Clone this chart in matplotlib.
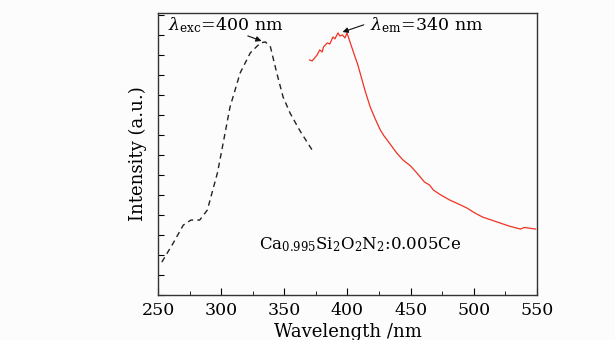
import matplotlib.pyplot as plt
from matplotlib.ticker import MultipleLocator

plt.rcParams['font.family'] = 'DejaVu Serif'
plt.rcParams['mathtext.fontset'] = 'dejavuserif'

# excitation spectrum (dashed)
exc_wl = [253, 262, 270, 276, 283, 289, 297, 299, 307, 315, 323, 331, 335,
          339, 344, 349, 354.5, 362, 373]
exc_int = [1.65, 2.6, 3.5, 3.75, 3.75, 4.25, 6.1, 6.75, 9.4, 11.1, 12.1, 12.6,
           12.65, 12.4, 11.1, 9.9, 9.1, 8.25, 7.15]

# emission spectrum (red)
em_wl = [370, 372, 374, 376, 378, 380, 381, 384, 386, 388.5, 390, 392.5, 394,
         396, 398, 399.6, 402, 406, 408, 410, 414, 418, 420, 422, 426, 429,
         432, 439, 444, 447, 450, 455, 461, 465, 468, 474, 481, 488, 494.6,
         501, 507, 514, 521, 528, 534, 537, 540, 549]
em_int = [11.75, 11.7, 11.85, 12.0, 12.25, 12.15, 12.4, 12.6, 12.55, 12.9,
          12.8, 13.1, 12.95, 13.0, 12.85, 13.1, 12.65, 11.9, 11.55, 11.1, 10.2,
          9.4, 9.1, 8.8, 8.25, 7.95, 7.7, 7.1, 6.75, 6.6, 6.45, 6.1, 5.65, 5.5,
          5.25, 5.0, 4.75, 4.55, 4.35, 4.1, 3.9, 3.75, 3.6, 3.45, 3.35, 3.3,
          3.38, 3.3]

fig = plt.figure(figsize=(6.15, 3.4), dpi=100, facecolor='#fcfcfc')
ax = fig.add_axes([0.257, 0.132, 0.616, 0.830], facecolor='#fcfcfc')

ax.plot(exc_wl, exc_int, color='#222222', ls=(0, (4, 3)), lw=1.0)
ax.plot(em_wl, em_int, color='#ee3322', lw=0.9)

ax.set_xlim(250, 550)
ax.set_ylim(0, 14.1)
ax.xaxis.set_major_locator(MultipleLocator(50))
ax.xaxis.set_minor_locator(MultipleLocator(25))
ax.yaxis.set_major_locator(MultipleLocator(1))
ax.tick_params(axis='x', which='both', direction='in', top=False,
               labelsize=12.5, pad=5)
ax.tick_params(axis='x', which='major', length=5)
ax.tick_params(axis='x', which='minor', length=3)
ax.tick_params(axis='y', direction='in', length=4, labelleft=False, right=False)
for s in ax.spines.values():
    s.set_linewidth(1.0)
    s.set_color('#333333')

ax.set_xlabel('Wavelength /nm', fontsize=13, labelpad=3)
ax.set_ylabel('Intensity (a.u.)', fontsize=13, labelpad=8)

ax.text(258, 13.5, r'$\lambda_{\rm exc}$=400 nm', fontsize=12.5, va='center')
ax.annotate('', xy=(334, 12.65), xytext=(319, 13.0),
            arrowprops=dict(arrowstyle='-|>', color='#111111', lw=0.8,
                            mutation_scale=8))
ax.text(418, 13.5, r'$\lambda_{\rm em}$=340 nm', fontsize=12.5, va='center')
ax.annotate('', xy=(394, 13.1), xytext=(415, 13.55),
            arrowprops=dict(arrowstyle='-|>', color='#111111', lw=0.8,
                            mutation_scale=8))

ax.text(330, 2.5, r'Ca$_{0.995}$Si$_2$O$_2$N$_2$:0.005Ce', fontsize=12,
        va='center')

fig.savefig('out.png', dpi=100, facecolor=fig.get_facecolor())
